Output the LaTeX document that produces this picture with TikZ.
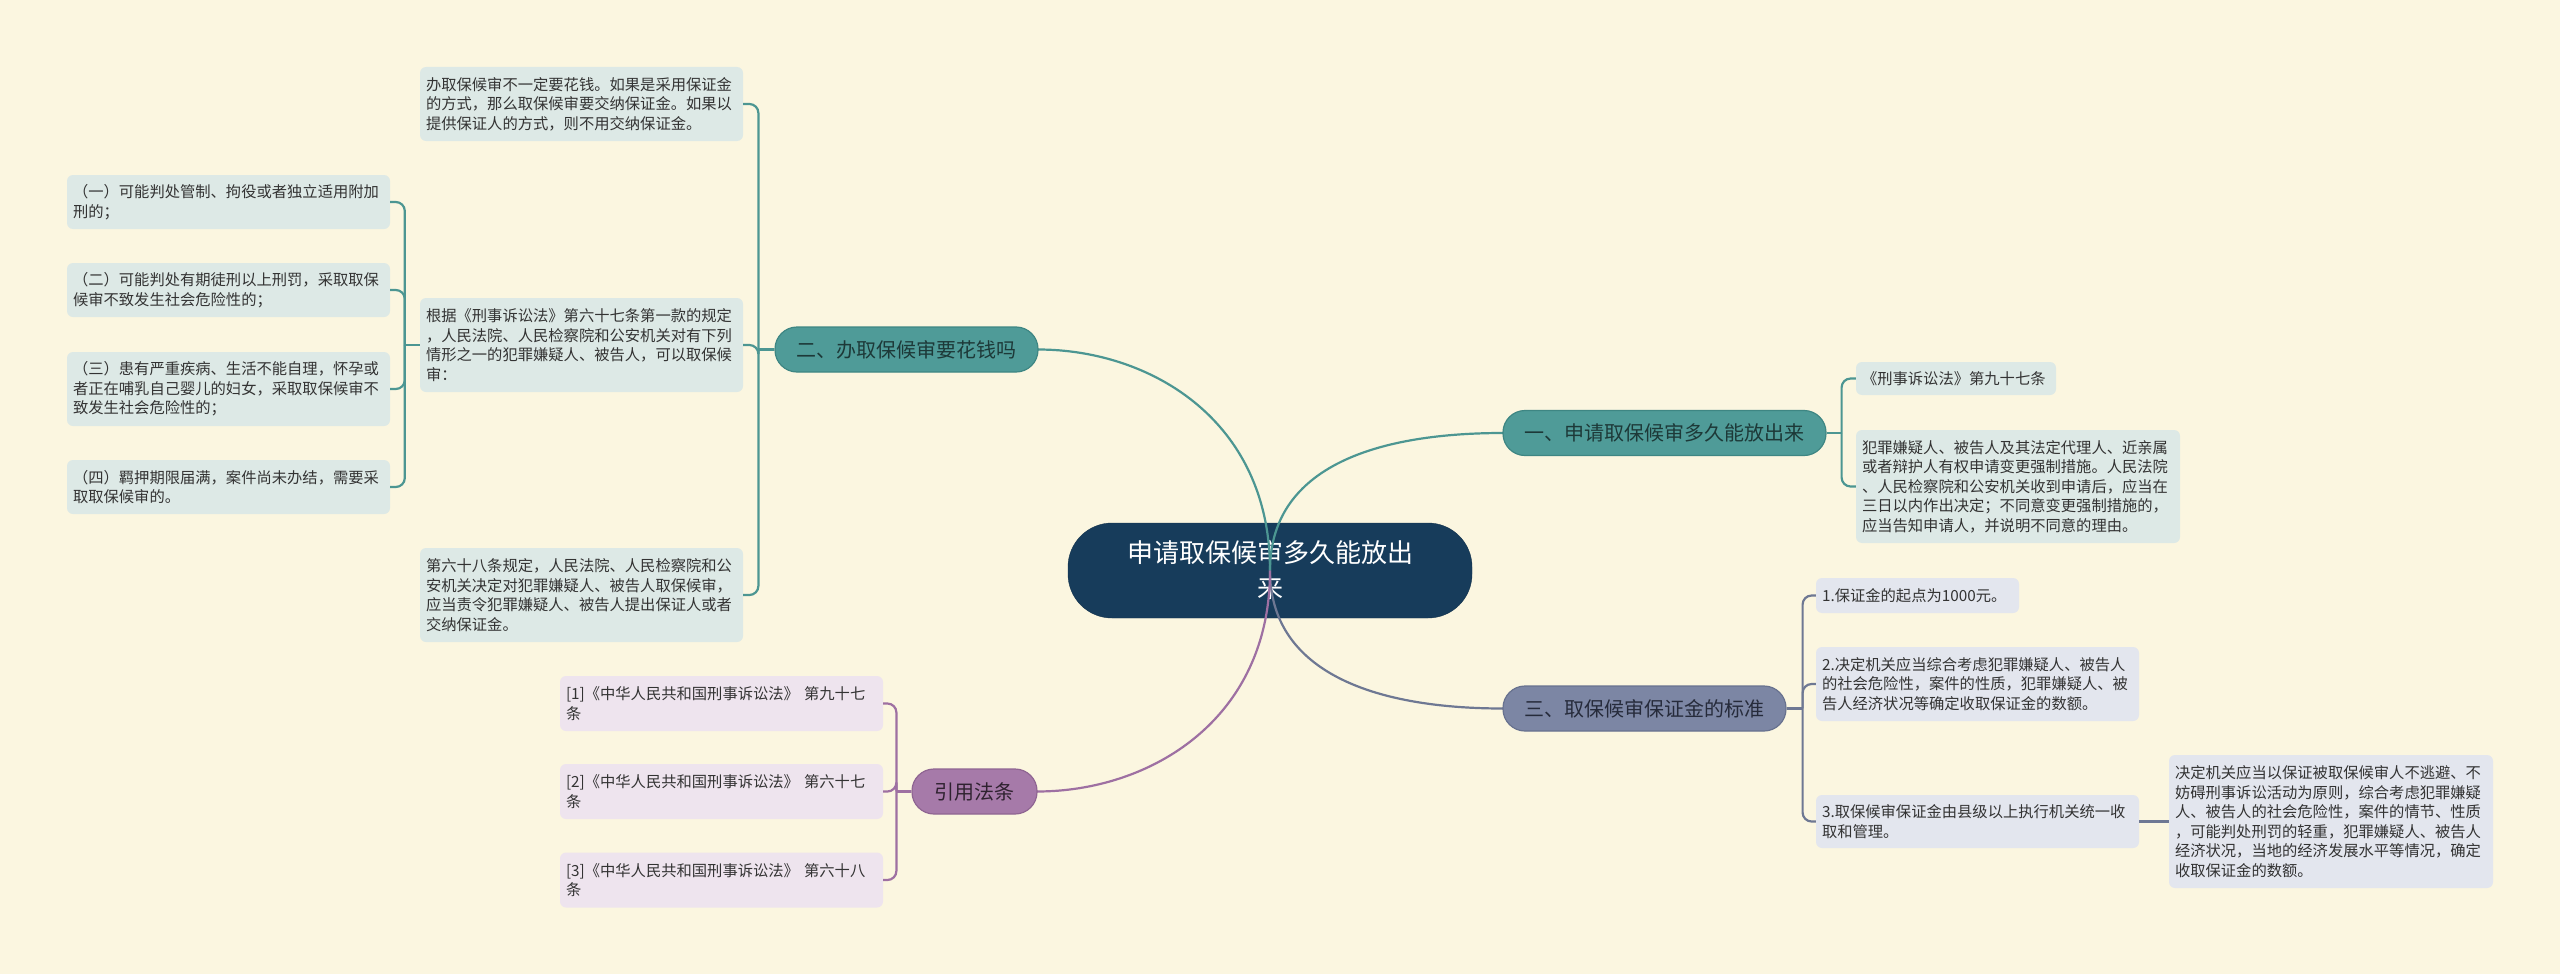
\documentclass[tikz,border=0pt]{standalone}
\usepackage{fontspec}
\setmainfont{Noto Sans CJK SC}
\definecolor{bgcream}{HTML}{FBF6E0}
\definecolor{rootnavy}{HTML}{173C5B}
\definecolor{tealmain}{HTML}{4F9B98}
\definecolor{tealdark}{HTML}{3E8683}
\definecolor{tealpale}{HTML}{DDE9E6}
\definecolor{tealline}{HTML}{4C9692}
\definecolor{tealink}{HTML}{1D3938}
\definecolor{slatemain}{HTML}{7C86A4}
\definecolor{slatedark}{HTML}{68728F}
\definecolor{slatepale}{HTML}{E3E6EE}
\definecolor{slateline}{HTML}{6E7893}
\definecolor{slateink}{HTML}{262B3B}
\definecolor{plummain}{HTML}{A67AA9}
\definecolor{plumdark}{HTML}{8F6592}
\definecolor{plumpale}{HTML}{EEE4EE}
\definecolor{plumline}{HTML}{9E70A2}
\definecolor{plumink}{HTML}{2F2230}
\definecolor{inkgray}{HTML}{333333}

\begin{document}
\begin{tikzpicture}[x=1pt, y=-1pt,
    leafbox/.style={rounded corners=6pt, inner xsep=6pt, inner ysep=3pt, align=left,
        text=inkgray, font=\fontsize{15.3}{19.5}\selectfont, text width=311pt},
    tealleaf/.style={leafbox, fill=tealpale},
    slateleaf/.style={leafbox, fill=slatepale},
    plumleaf/.style={leafbox, fill=plumpale},
    topicbox/.style={rounded corners=22pt, line width=1.2pt, minimum height=45pt,
        font=\fontsize{20}{24}\selectfont},
    rootbox/.style={fill=rootnavy, draw=rootnavy!85!black, rounded corners=44pt, text=white,
        align=center, font=\fontsize{26}{35}\selectfont, minimum width=404pt, minimum height=95pt},
    linkline/.style={line width=2.2pt},
    bracket/.style={line width=2.2pt, rounded corners=9pt}]
        \fill[bgcream] (0,0) rectangle (2560,974);
        \useasboundingbox (0,0) rectangle (2560,974);

        % centre and main topics
        \node[rootbox] (root) at (1270,570.5) {申请取保候审多久能放出\\来};
        \draw[linkline, tealline] (root.center) .. controls (1270,470) and (1370,433) .. (1503,433) coordinate (fast-in);
        \draw[linkline, tealline] (root.center) .. controls (1270,420) and (1150,349.5) .. (1038,349.5) coordinate (cost-in);
        \draw[linkline, slateline] (root.center) .. controls (1270,670) and (1370,708.5) .. (1503,708.5) coordinate (bail-in);
        \draw[linkline, plumline] (root.center) .. controls (1270,720) and (1150,791.5) .. (1037,791.5) coordinate (laws-in);

        \node[topicbox, fill=tealmain, draw=tealdark, text=tealink, minimum width=323pt] (fast) at (1664.5,433) {一、申请取保候审多久能放出来};
        \node[topicbox, fill=tealmain, draw=tealdark, text=tealink, minimum width=263pt] (cost) at (906.5,349.5) {二、办取保候审要花钱吗};
        \node[topicbox, fill=slatemain, draw=slatedark, text=slateink, minimum width=283pt] (bail) at (1644.5,708.5) {三、取保候审保证金的标准};
        \node[topicbox, fill=plummain, draw=plumdark, text=plumink, minimum width=125pt] (laws) at (974.5,791.5) {引用法条};

        % 一
        \node[tealleaf, text width=188pt, minimum height=33pt] (fast-1) at (1956,378.5) {《刑事诉讼法》第九十七条};
        \node[tealleaf, text width=312pt, minimum height=113pt] (fast-2) at (2018,486.5)
            {犯罪嫌疑人、被告人及其法定代理人、近亲属\\或者辩护人有权申请变更强制措施。人民法院\\、人民检察院和公安机关收到申请后，应当在\\三日以内作出决定；不同意变更强制措施的，\\应当告知申请人，并说明不同意的理由。};
        \coordinate (fast-hub) at ([xshift=15pt]fast.east);
        \draw[linkline, tealline] (fast.east) -- (fast-hub);
        \foreach \leaf in {fast-1,fast-2}
            \draw[bracket, tealline] (fast-hub) |- (\leaf.west);

        % 二
        \foreach \leaf/\ypos/\boxh/\txt in {
            cost-1/104/74/{办取保候审不一定要花钱。如果是采用保证金\\的方式，那么取保候审要交纳保证金。如果以\\提供保证人的方式，则不用交纳保证金。},
            cost-2/345/94/{根据《刑事诉讼法》第六十七条第一款的规定\\，人民法院、人民检察院和公安机关对有下列\\情形之一的犯罪嫌疑人、被告人，可以取保候\\审：},
            cost-3/595/94/{第六十八条规定，人民法院、人民检察院和公\\安机关决定对犯罪嫌疑人、被告人取保候审，\\应当责令犯罪嫌疑人、被告人提出保证人或者\\交纳保证金。}}
            \node[tealleaf, minimum height=\boxh pt] (\leaf) at (581.5,\ypos) {\txt};
        \coordinate (cost-hub) at ([xshift=-16pt]cost.west);
        \draw[linkline, tealline] (cost.west) -- (cost-hub);
        \foreach \leaf in {cost-1,cost-2,cost-3}
            \draw[bracket, tealline] (cost-hub) |- (\leaf.east);

        \foreach \leaf/\ypos/\boxh/\txt in {
            cond-1/202/54/{（一）可能判处管制、拘役或者独立适用附加\\刑的；},
            cond-2/290/54/{（二）可能判处有期徒刑以上刑罚，采取取保\\候审不致发生社会危险性的；},
            cond-3/389/74/{（三）患有严重疾病、生活不能自理，怀孕或\\者正在哺乳自己婴儿的妇女，采取取保候审不\\致发生社会危险性的；},
            cond-4/487/54/{（四）羁押期限届满，案件尚未办结，需要采\\取取保候审的。}}
            \node[tealleaf, minimum height=\boxh pt] (\leaf) at (228.5,\ypos) {\txt};
        \coordinate (cond-hub) at ([xshift=-15pt]cost-2.west);
        \draw[linkline, tealline] (cost-2.west) -- (cond-hub);
        \foreach \leaf in {cond-1,cond-2,cond-3,cond-4}
            \draw[bracket, tealline] (cond-hub) |- (\leaf.east);

        % 三
        \node[slateleaf, text width=191pt, minimum height=35pt] (bail-1) at (1917.5,595.5) {1.保证金的起点为1000元。};
        \node[slateleaf, minimum height=74pt] (bail-2) at (1977.5,684)
            {2.决定机关应当综合考虑犯罪嫌疑人、被告人\\的社会危险性，案件的性质，犯罪嫌疑人、被\\告人经济状况等确定收取保证金的数额。};
        \node[slateleaf, minimum height=53pt] (bail-3) at (1977.5,821.5)
            {3.取保候审保证金由县级以上执行机关统一收\\取和管理。};
        \node[slateleaf, text width=312pt, minimum height=133pt] (bail-4) at (2331,821.5)
            {决定机关应当以保证被取保候审人不逃避、不\\妨碍刑事诉讼活动为原则，综合考虑犯罪嫌疑\\人、被告人的社会危险性，案件的情节、性质\\，可能判处刑罚的轻重，犯罪嫌疑人、被告人\\经济状况，当地的经济发展水平等情况，确定\\收取保证金的数额。};
        \coordinate (bail-hub) at ([xshift=16pt]bail.east);
        \draw[linkline, slateline] (bail.east) -- (bail-hub);
        \foreach \leaf in {bail-1,bail-2,bail-3}
            \draw[bracket, slateline] (bail-hub) |- (\leaf.west);
        \draw[linkline, slateline] (bail-3.east) -- (bail-4.west);

        % 引用法条
        \foreach \leaf/\ypos/\num/\art in {laws-1/703.5/1/九十七, laws-2/791.5/2/六十七, laws-3/880/3/六十八}
            \node[plumleaf, minimum height=55pt] (\leaf) at (721.5,\ypos) {[\num]《中华人民共和国刑事诉讼法》 第\art\\条};
        \coordinate (laws-hub) at ([xshift=-15pt]laws.west);
        \draw[linkline, plumline] (laws.west) -- (laws-hub);
        \foreach \leaf in {laws-1,laws-2,laws-3}
            \draw[bracket, plumline] (laws-hub) |- (\leaf.east);
\end{tikzpicture}
\end{document}
